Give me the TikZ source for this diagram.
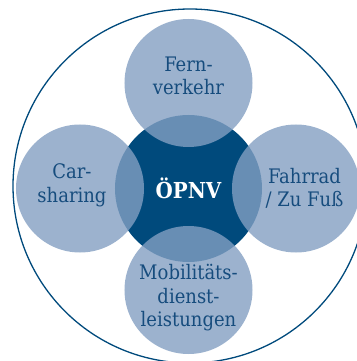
\documentclass[tikz,border=0pt]{standalone}
\usepackage{fontspec}
\setmainfont{DejaVu Serif Condensed}
\usetikzlibrary{positioning}
\definecolor{coreblue}{RGB}{0,74,124}
\definecolor{satblue}{RGB}{131,159,194}
\definecolor{textblue}{RGB}{22,76,125}

\begin{document}
\begin{tikzpicture}[
        font=\fontsize{20}{23.5}\selectfont,
        core/.style={circle, fill=coreblue, minimum size=147pt, inner sep=0pt, outer sep=0pt},
        sat/.style={circle, fill=satblue, fill opacity=0.8, minimum size=128pt, inner sep=0pt, outer sep=0pt},
        sattext/.style={text=textblue, align=center, inner sep=0pt},
        coretext/.style={text=white, font=\fontsize{22}{24}\selectfont\bfseries},
        ring/.style={draw=coreblue, circle, line width=1.3pt, minimum size=354pt, inner sep=0pt},
    ]
        \useasboundingbox (-188.5pt,-172.5pt) rectangle (167.5pt,188.5pt);

        % --- outer ring ---
        \node[ring] (outer) at (1.5pt,2.5pt) {};

        % --- centre ---
        \node[core] (opnv) at (0,0) {};

        % --- four overlapping circles round the centre ---
        \node[sat, above=-32pt of opnv] (fern) {};
        \node[sat, left=-29pt of opnv]  (car)  {};
        \node[sat, right=-30pt of opnv] (rad)  {};
        \node[sat, below=-36pt of opnv] (mob)  {};

        % texts
        \node[coretext] (opnvt) at (opnv.center) {ÖPNV};
        \node[sattext] (fernt) at ([yshift=7pt]fern.center) {Fern-\\verkehr};
        \node[sattext] (cart)  at ([xshift=-8pt,yshift=3pt]car.center) {Car-\\sharing};
        \node[sattext] (radt)  at ([xshift=8.5pt]rad.center) {Fahrrad\\/ Zu Fuß};
        \node[sattext] (mobt)  at ([yshift=-8pt]mob.center) {Mobilitäts-\\dienst-\\leistungen};

\end{tikzpicture}
\end{document}
